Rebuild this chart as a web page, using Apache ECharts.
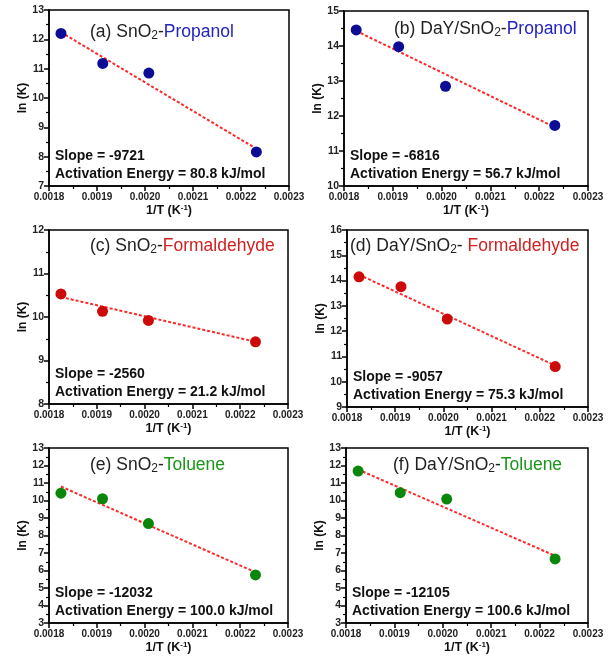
<!DOCTYPE html>
<html>
<head>
<meta charset="utf-8">
<script src="https://cdn.jsdelivr.net/npm/echarts@6/dist/echarts.min.js"></script>
<style>
  html, body { margin: 0; padding: 0; background: #fff; }
  #main { width: 613px; height: 656px; }
</style>
</head>
<body>
<div id="main"></div>
<script>
// 1/T values shared by all panels
const invT = [0.001825, 0.001912, 0.002008, 0.002232];

// ln(K)
const lnK_a = [12.2, 11.18, 10.85, 8.16];
const lnK_b = [14.46, 13.98, 12.85, 11.73];
const lnK_c = [10.53, 10.13, 9.92, 9.43];
const lnK_d = [14.15, 13.76, 12.48, 10.6];
const lnK_e = [10.42, 10.1, 8.68, 5.75];
const lnK_f = [11.68, 10.45, 10.08, 6.66];

// fitted line, value at first and last 1/T
const fit_a = [12.24, 8.27];
const fit_b = [14.43, 11.68];
const fit_c = [10.46, 9.43];
const fit_d = [14.23, 10.64];
const fit_e = [10.8, 5.9];
const fit_f = [11.77, 6.84];

const slopes = ['-9721', '-6816', '-2560', '-9057', '-12032', '-12105'];
const energies = ['80.8', '56.7', '21.2', '75.3', '100.0', '100.6'];
const yRanges = [[7, 13], [10, 15], [8, 12], [9, 16], [3, 13], [3, 13]];

const blue = '#0c0c94', red = '#cc0a0a', green = '#0a870a';

// panel layout
const panels = [
  { grid: { left: 49, top: 10, width: 240, height: 176 }, data: lnK_a, fit: fit_a, color: blue,
    title: ['(a) SnO', '-', 'Propanol'], tcol: '#2222c0', tx: 90, ty: 31 },
  { grid: { left: 344, top: 11, width: 244, height: 175 }, data: lnK_b, fit: fit_b, color: blue,
    title: ['(b) DaY/SnO', '-', 'Propanol'], tcol: '#2222c0', tx: 394, ty: 28 },
  { grid: { left: 49, top: 230, width: 239, height: 174 }, data: lnK_c, fit: fit_c, color: red,
    title: ['(c) SnO', '-', 'Formaldehyde'], tcol: '#d02020', tx: 90, ty: 245 },
  { grid: { left: 347, top: 230, width: 241, height: 177 }, data: lnK_d, fit: fit_d, color: red,
    title: ['(d) DaY/SnO', '- ', 'Formaldehyde'], tcol: '#d02020', tx: 350, ty: 245 },
  { grid: { left: 49, top: 448, width: 239, height: 175 }, data: lnK_e, fit: fit_e, color: green,
    title: ['(e) SnO', '-', 'Toluene'], tcol: '#1a961a', tx: 90, ty: 464 },
  { grid: { left: 346, top: 448, width: 242, height: 175 }, data: lnK_f, fit: fit_f, color: green,
    title: ['(f) DaY/SnO', '-', 'Toluene'], tcol: '#1a961a', tx: 393, ty: 464 }
];

const font = 'Liberation Sans, Arial, sans-serif';

const grids = [], xAxes = [], yAxes = [], series = [], graphics = [];

panels.forEach((p, i) => {
  grids.push(Object.assign({ show: true, borderColor: '#000', borderWidth: 1.5, backgroundColor: 'transparent' }, p.grid));

  xAxes.push({
    type: 'value', gridIndex: i, min: 0.0018, max: 0.0023, interval: 0.0001,
    name: '1/T (K{sup|-1})', nameLocation: 'middle', nameGap: 18,
    nameTextStyle: {
      fontFamily: font, fontWeight: 'bold', fontSize: 12.5, color: '#111',
      rich: { sup: { fontFamily: font, fontWeight: 'bold', fontSize: 8, verticalAlign: 'top', lineHeight: 8, color: '#111' } }
    },
    axisLine: { lineStyle: { color: '#000', width: 1.5 } },
    axisTick: { show: true, inside: false, length: 5, lineStyle: { color: '#000', width: 1.5 } },
    minorTick: { show: true, splitNumber: 2, length: 3, lineStyle: { color: '#000', width: 1.2 } },
    splitLine: { show: false },
    axisLabel: {
      fontFamily: font, fontWeight: 'bold', fontSize: 10, color: '#222', margin: 6,
      formatter: v => v.toFixed(4)
    }
  });

  yAxes.push({
    type: 'value', gridIndex: i, min: yRanges[i][0], max: yRanges[i][1], interval: 1,
    name: 'ln (K)', nameLocation: 'middle', nameGap: 20, nameRotate: 90,
    nameTextStyle: { fontFamily: font, fontWeight: 'bold', fontSize: 12, color: '#111' },
    axisLine: { lineStyle: { color: '#000', width: 1.5 } },
    axisTick: { show: true, inside: false, length: 5, lineStyle: { color: '#000', width: 1.5 } },
    minorTick: { show: true, splitNumber: 2, length: 3, lineStyle: { color: '#000', width: 1.2 } },
    splitLine: { show: false },
    axisLabel: { fontFamily: font, fontWeight: 'bold', fontSize: 10.5, color: '#222', margin: 5 }
  });

  series.push({
    type: 'line', xAxisIndex: i, yAxisIndex: i, symbol: 'none', z: 2,
    data: [[invT[0], p.fit[0]], [invT[invT.length - 1], p.fit[1]]],
    lineStyle: { color: '#ff2828', width: 2, type: [3, 2] }
  });
  series.push({
    type: 'scatter', xAxisIndex: i, yAxisIndex: i, symbolSize: 11, z: 3,
    data: invT.map((x, k) => [x, p.data[k]]),
    itemStyle: { color: p.color, opacity: 1 }
  });

  // panel title with subscript 2
  graphics.push({
    type: 'text', left: p.tx, top: p.ty - 8, z: 10,
    style: {
      text: '{n|' + p.title[0] + '}{s|2}{n|' + p.title[1] + '}{c|' + p.title[2] + '}',
      rich: {
        n: { fontFamily: font, fontSize: 17.5, lineHeight: 22, verticalAlign: 'bottom', padding: [0, 0, 1, 0], fill: '#222' },
        s: { fontFamily: font, fontSize: 12, lineHeight: 22, verticalAlign: 'bottom', fill: '#222' },
        c: { fontFamily: font, fontSize: 17.5, lineHeight: 22, verticalAlign: 'bottom', padding: [0, 0, 1, 0], fill: p.tcol }
      }
    }
  });

  // slope and activation energy
  const g = p.grid;
  const bottom = g.top + g.height;
  graphics.push({
    type: 'text', left: g.left + 6, top: bottom - 39, z: 10,
    style: {
      text: 'Slope = ' + slopes[i] + '\nActivation Energy = ' + energies[i] + ' kJ/mol',
      font: 'bold 14px ' + font, lineHeight: 18, fill: '#111'
    }
  });
});

const chart = echarts.init(document.getElementById('main'), null, { renderer: 'canvas' });
chart.setOption({
  animation: false,
  backgroundColor: '#fff',
  grid: grids,
  xAxis: xAxes,
  yAxis: yAxes,
  series: series,
  graphic: graphics
});
</script>
</body>
</html>
